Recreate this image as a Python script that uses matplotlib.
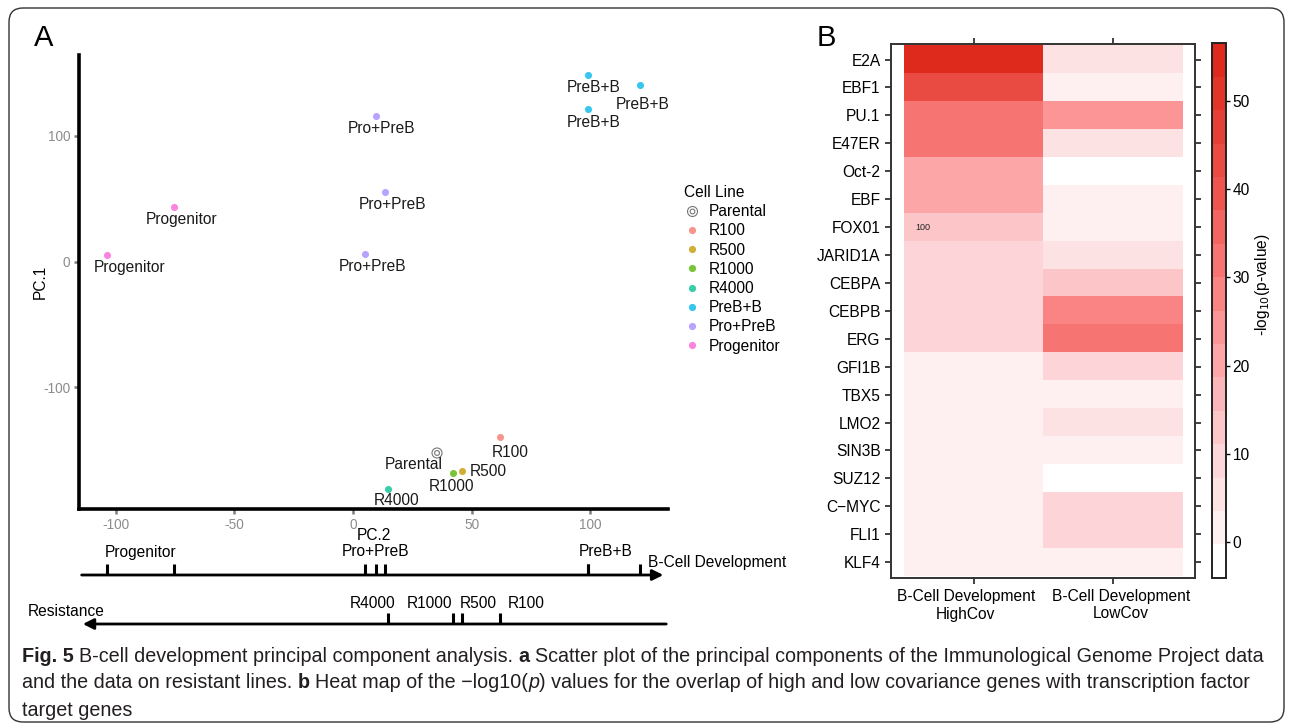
import matplotlib
matplotlib.use('Agg')
import matplotlib.pyplot as plt
import numpy as np
from matplotlib import transforms
from matplotlib.colors import LinearSegmentedColormap
from matplotlib.lines import Line2D
from matplotlib.legend_handler import HandlerTuple
from matplotlib.patches import FancyBboxPatch

plt.rcParams['font.family'] = ['Liberation Sans', 'DejaVu Sans']
plt.rcParams['axes.unicode_minus'] = False

# ---- panel A data: PCA of cell lines ----
cell_lines = ['Parental', 'R100', 'R500', 'R1000', 'R4000', 'PreB+B', 'Pro+PreB', 'Progenitor']
line_colors = ['#808080', '#F8766D', '#C49A00', '#53B400', '#00C094', '#00B6EB', '#A58AFF', '#FB61D7']

point_group = ['Progenitor', 'Progenitor', 'Pro+PreB', 'Pro+PreB', 'Pro+PreB',
               'PreB+B', 'PreB+B', 'PreB+B', 'Parental', 'R100', 'R500', 'R1000', 'R4000']
pc2 = [-103.5, -75.2, 9.6, 13.6, 5.2, 99.2, 121.0, 99.2, 35.4, 61.9, 45.9, 42.1, 14.7]
pc1 = [5.2, 43.4, 115.8, 55.5, 6.0, 148.4, 140.4, 121.3, -152.3, -139.6, -166.6, -168.2, -180.9]
# label nudges in pixels (right, down)
label_nudge = [(22, 13), (7, 13), (6, 13), (7, 13), (7, 13), (5, 13), (2, 19), (5, 13),
               (-23, 12), (10, 15), (26, 1), (-1, 14), (9, 12)]

dev_groups = ['Progenitor', 'Pro+PreB', 'PreB+B']
res_groups = ['R4000', 'R1000', 'R500', 'R100']
res_label_shift = [-15, -23, 16, 26]

# ---- panel B data: -log10(p) heat map ----
tf_names = ['E2A', 'EBF1', 'PU.1', 'E47ER', 'Oct-2', 'EBF', 'FOX01', 'JARID1A', 'CEBPA',
            'CEBPB', 'ERG', 'GFI1B', 'TBX5', 'LMO2', 'SIN3B', 'SUZ12', 'C\u2212MYC', 'FLI1', 'KLF4']
heat_cols = ['B-Cell Development\nHighCov', 'B-Cell Development\nLowCov']
high_cov = [54.7, 45.0, 32.0, 32.0, 20.6, 20.6, 13.0, 9.2, 9.2, 9.2, 9.2, 3.0, 3.0, 3.0, 3.0, 3.0, 3.0, 3.0, 3.0]
low_cov = [5.0, 1.6, 24.4, 5.0, -2.2, 1.6, 1.6, 4.0, 13.0, 28.0, 32.0, 9.2, 1.6, 5.0, 1.6, -2.2, 9.2, 9.2, 1.6]
cbar_ticks = [0, 10, 20, 30, 40, 50]

W, H = 1292, 728
fig = plt.figure(figsize=(W / 100, H / 100), dpi=100)


def fy(px):
    return 1 - px / H


# ================= panel A =================
ax = fig.add_axes([79.3 / W, fy(509.3), 588.7 / W, 454.3 / H])
col_of = dict(zip(cell_lines, line_colors))
for x, y, g, (dx, dy) in zip(pc2, pc1, point_group, label_nudge):
    if g == 'Parental':
        ax.scatter(x, y, s=52, facecolors='none', edgecolors='#777777', linewidths=0.8, zorder=3)
        ax.scatter(x, y, s=12, facecolors='none', edgecolors='#777777', linewidths=0.8, zorder=3)
    else:
        ax.scatter(x, y, s=26, color=col_of[g], alpha=0.78, linewidths=0, zorder=3)
    ax.annotate(g, (x, y), xytext=(dx, -dy), textcoords='offset pixels',
                ha='center', va='center', fontsize=11.2, color='#1a1a1a')

ax.set_xlim(-115.3, 132.7)
ax.set_ylim(-197.1, 164.3)
ax.set_xticks([-100, -50, 0, 50, 100])
ax.set_yticks([-100, 0, 100])
for s in ['top', 'right']:
    ax.spines[s].set_visible(False)
for s in ['left', 'bottom']:
    ax.spines[s].set_linewidth(2.6)
    ax.spines[s].set_color('black')
ax.tick_params(length=3.5, width=1.8, color='#7f7f7f', labelcolor='#8c8c8c', labelsize=9.8, pad=3)
ax.text(0.5, -0.042, 'PC.2', transform=ax.transAxes, ha='center', va='top', fontsize=11.2)
ax.text(-0.067, 0.5, 'PC.1', transform=ax.transAxes, ha='center', va='center', rotation=90, fontsize=11.2)
fig.text(44 / W, fy(38), 'A', fontsize=21, ha='center', va='center')

# legend
handles = []
for name, c in zip(cell_lines, line_colors):
    if name == 'Parental':
        h = (Line2D([], [], ls='', marker='o', ms=7.2, mfc='none', mec='#777777', mew=0.8),
             Line2D([], [], ls='', marker='o', ms=3.4, mfc='none', mec='#777777', mew=0.8))
    else:
        h = Line2D([], [], ls='', marker='o', ms=5.2, color=c, alpha=0.78, mew=0)
    handles.append(h)
leg = fig.legend(handles, cell_lines, loc='upper left', bbox_to_anchor=(684 / W, fy(185)),
                 frameon=False, fontsize=11.2, title='Cell Line', title_fontsize=11.2,
                 handler_map={tuple: HandlerTuple(ndivide=1)}, handlelength=1.0,
                 handletextpad=0.6, labelspacing=0.27, borderaxespad=0, borderpad=0)
leg._legend_box.align = 'left'

# development and resistance axes under panel A
tr = transforms.blended_transform_factory(ax.transData, fig.transFigure)
tr_ax = transforms.blended_transform_factory(ax.transAxes, fig.transFigure)
arrow_kw = dict(arrowstyle='-|>', color='black', lw=2.0, mutation_scale=16, shrinkA=0, shrinkB=0)

ax.annotate('', xy=(0.992, fy(575)), xytext=(0.004, fy(575)), xycoords=tr_ax, textcoords=tr_ax,
            arrowprops=arrow_kw, annotation_clip=False)
for g in dev_groups:
    xs = [x for x, gg in zip(pc2, point_group) if gg == g]
    for x in xs:
        ax.plot([x, x], [fy(575), fy(564)], transform=tr, color='black', lw=2.2,
                solid_capstyle='butt', clip_on=False)
    ax.text(np.mean(xs), fy(552), g, transform=tr, ha='center', va='center', fontsize=11.2)
fig.text(648 / W, fy(563), 'B-Cell Development', ha='left', va='center', fontsize=11.2)

ax.annotate('', xy=(0.006, fy(624)), xytext=(0.997, fy(624)), xycoords=tr_ax, textcoords=tr_ax,
            arrowprops=arrow_kw, annotation_clip=False)
for g, shift in zip(res_groups, res_label_shift):
    x = pc2[point_group.index(g)]
    ax.plot([x, x], [fy(624), fy(613)], transform=tr, color='black', lw=2.2,
            solid_capstyle='butt', clip_on=False)
    ax.annotate(g, (x, fy(603)), xycoords=tr, xytext=(shift, 0), textcoords='offset pixels',
                ha='center', va='center', fontsize=11.2, annotation_clip=False)
fig.text(28 / W, fy(612), 'Resistance', ha='left', va='center', fontsize=11.2)

# ================= panel B =================
cmap = LinearSegmentedColormap.from_list(
    'wr', [(0, '#FFFFFF'), (0.067, '#FEF0F1'), (0.23, '#FDD0D3'), (0.4, '#FCA6A8'),
           (0.55, '#FA8080'), (0.73, '#EE5650'), (1.0, '#DE2A1D')], N=16)
values = np.column_stack([high_cov, low_cov])
axh = fig.add_axes([891 / W, fy(577.5), 304.3 / W, 533.5 / H])
im = axh.imshow(values, cmap=cmap, vmin=-4.1, vmax=56.6, aspect='auto', interpolation='nearest')
axh.set_xlim(-0.593, 1.590)
axh.set_ylim(18.55, -0.558)
axh.set_xticks([0, 1])
axh.set_xticklabels([])
# the two column labels sit slightly apart from their ticks
tr_h = transforms.blended_transform_factory(axh.transData, axh.transAxes)
for i, (lab, shift) in enumerate(zip(heat_cols, [-8, 8])):
    axh.annotate(lab, (i, 0), xycoords=tr_h, xytext=(shift, -11), textcoords='offset pixels',
                 ha='center', va='top', fontsize=11.2, linespacing=1.25, annotation_clip=False)
axh.set_yticks(range(len(tf_names)))
axh.set_yticklabels(tf_names, fontsize=11.2)
axh.tick_params(axis='y', left=True, right=True, labelright=False, length=4, width=1.3, color='#333333')
axh.tick_params(axis='x', top=True, bottom=True, labeltop=False, length=4, width=1.3, color='#333333')
for s in axh.spines.values():
    s.set_linewidth(1.4)
    s.set_color('#333333')
axh.text(-0.42, 6.03, '100', fontsize=6.5, ha='left', va='center', color='#222222')
fig.text(826 / W, fy(38), 'B', fontsize=21, ha='center', va='center')

cax = fig.add_axes([1212.3 / W, fy(577.7), 13.4 / W, 534.4 / H])
cb = fig.colorbar(im, cax=cax, ticks=cbar_ticks)
cb.outline.set_linewidth(1.4)
cb.outline.set_edgecolor('#222222')
cax.tick_params(length=3, width=1.0, labelsize=11.2, pad=2)
fig.text(1262 / W, fy(285), r'-log$_{10}$(p-value)', rotation=90, ha='center', va='center', fontsize=11.2)

# ================= caption and frame =================
caption = [
    [('Fig. 5', 'bold', 'normal'), ('B-cell development principal component analysis.', 'normal', 'normal'),
     ('a', 'bold', 'normal'),
     ('Scatter plot of the principal components of the Immunological Genome Project data', 'normal', 'normal')],
    [('and the data on resistant lines.', 'normal', 'normal'), ('b', 'bold', 'normal'),
     ('Heat map of the \u2212log10(', 'normal', 'normal'), ('p', 'normal', 'italic'),
     (') values for the overlap of high and low covariance genes with transcription factor', 'normal', 'normal')],
    [('target genes', 'normal', 'normal')],
]
caption_y = [656, 683, 710]
renderer = fig.canvas.get_renderer()


def draw_caption(size):
    font = dict(fontsize=size, color='#231F20', family=['Liberation Sans', 'DejaVu Sans'])
    pa = fig.text(0, 0, 'xx', **font)
    pb = fig.text(0, 0, 'x x', **font)
    space_w = pb.get_window_extent(renderer).width - pa.get_window_extent(renderer).width
    pa.remove()
    pb.remove()
    made, ends = [], []
    for line, ypx in zip(caption, caption_y):
        xpx = 22
        for i, (txt, wt, st) in enumerate(line):
            t = fig.text(xpx / W, fy(ypx), txt, fontweight=wt, fontstyle=st, ha='left', va='center', **font)
            made.append(t)
            xpx = t.get_window_extent(renderer).x1
            nxt = line[i + 1][0] if i + 1 < len(line) else ''
            if not (txt.endswith('(') or nxt.startswith(')') or nxt == ''):
                xpx += space_w
        ends.append(xpx)
    return made, ends[0]


made, end1 = draw_caption(13.0)
for t in made:
    t.remove()
draw_caption(13.0 * (1262 - 22) / (end1 - 22))

fig.add_artist(FancyBboxPatch((9, H - 722), 1275, 714, boxstyle='round,pad=0,rounding_size=14',
                              transform=transforms.IdentityTransform(), facecolor='none',
                              edgecolor='#333333', linewidth=1.0))

fig.savefig('out.png', dpi=100)
